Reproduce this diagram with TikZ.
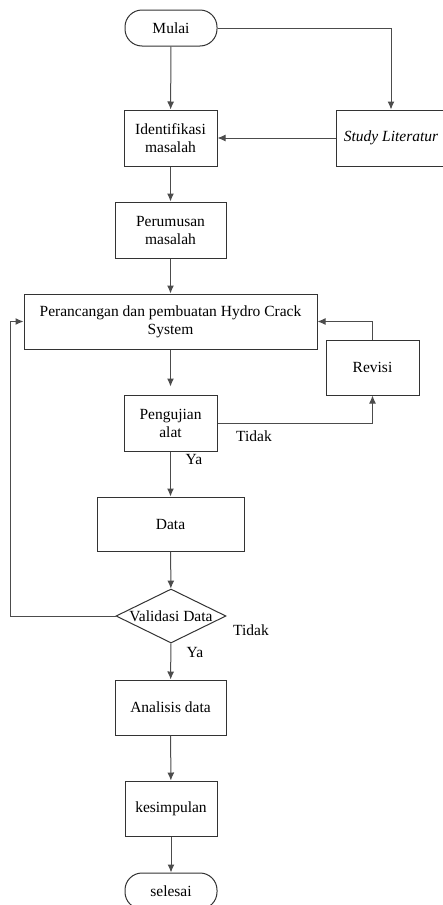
\documentclass[tikz,border=0pt]{standalone}
\usepackage{fontspec}
\setmainfont{Liberation Serif}
\usetikzlibrary{arrows.meta,shapes.geometric}

\begin{document}
\begin{tikzpicture}[x=1pt, y=-1pt,
    font=\fontsize{15.5}{18}\selectfont,
    line width=1pt,
    >={Latex[length=8pt,width=7pt]},
    box/.style={draw=black!80, rectangle, align=center, inner sep=0pt},
    terminal/.style={draw=black!80, rounded corners=17pt, minimum width=92pt, minimum height=36pt, inner sep=0pt},
    decision/.style={draw=black!80, diamond, minimum width=110pt, minimum height=54pt, inner sep=0pt},
    flow/.style={->, draw=black!70},
    lbl/.style={inner sep=0pt}]
    \clip (0,0) rectangle (443,905);

    % nodes
    \node[terminal] (mulai) at (171,28) {Mulai};
    \node[box, minimum width=93pt, minimum height=56pt] (ident) at (170.5,138) {Identifikasi\\masalah};
    \node[box, minimum width=110pt, minimum height=56pt] (study) at (391,138) {\itshape Study Literatur};
    \node[box, minimum width=111pt, minimum height=56pt] (rumus) at (170.5,230) {Perumusan\\masalah};
    \node[box, minimum width=293pt, minimum height=55pt] (rancang) at (170.5,321.5) {Perancangan dan pembuatan Hydro Crack\\System};
    \node[box, minimum width=93pt, minimum height=55pt] (revisi) at (372.5,367.5) {Revisi};
    \node[box, minimum width=93pt, minimum height=56pt] (uji) at (170.5,423) {Pengujian\\alat};
    \node[box, minimum width=147pt, minimum height=54pt] (data) at (170.5,524) {Data};
    \node[decision] (valid) at (171,616) {};
    \node[lbl] (validtxt) at (valid) {Validasi Data};
    \node[box, minimum width=111pt, minimum height=55pt] (analisis) at (170.5,707.5) {Analisis data};
    \node[box, minimum width=92pt, minimum height=55pt] (simpul) at (171,808.5) {kesimpulan};
    \node[terminal] (selesai) at (171,891) {selesai};

    % labels
    \node[lbl] (tidak1) at (254,436) {Tidak};
    \node[lbl] (ya1) at (194,459) {Ya};
    \node[lbl] (tidak2) at (251,630) {Tidak};
    \node[lbl] (ya2) at (195,652) {Ya};
    \coordinate (balik) at (10,616);

    % connectors
    \draw[flow] (mulai) -- (ident);
    \draw[flow] (mulai) -| (study);
    \draw[flow] (study) -- (ident);
    \draw[flow] (ident) -- (rumus);
    \draw[flow] (rumus) -- (rancang);
    \draw[flow, shorten >=8pt] (rancang) -- (uji);
    \draw[flow] (uji) -| (revisi);
    \draw[flow] (revisi.north) |- (rancang.east);
    \draw[flow] (uji) -- (data);
    \draw[flow] (data) -- (valid);
    \draw[flow] (valid.west) -- (balik) |- (rancang.west);
    \draw[flow] (valid) -- (analisis);
    \draw[flow] (analisis) -- (simpul);
    \draw[flow] (simpul) -- (selesai);
\end{tikzpicture}
\end{document}
